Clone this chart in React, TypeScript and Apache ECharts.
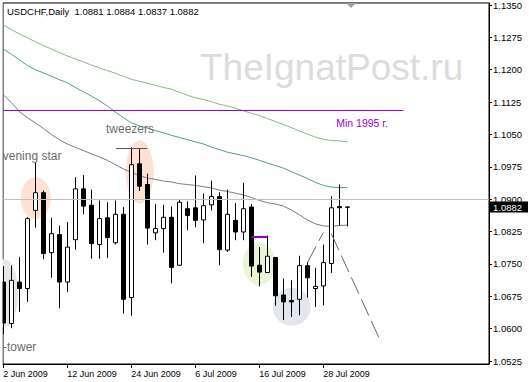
import React, { useEffect, useRef } from "react";
import * as echarts from "echarts";

const symbol = "USDCHF";
const period = "Daily";

const dates = [
  "2009-06-02", "2009-06-03", "2009-06-04", "2009-06-05", "2009-06-08", "2009-06-09", "2009-06-10", "2009-06-11",
  "2009-06-12", "2009-06-15", "2009-06-16", "2009-06-17", "2009-06-18", "2009-06-19", "2009-06-22", "2009-06-23",
  "2009-06-24", "2009-06-25", "2009-06-26", "2009-06-29", "2009-06-30", "2009-07-01", "2009-07-02", "2009-07-03",
  "2009-07-06", "2009-07-07", "2009-07-08", "2009-07-09", "2009-07-10", "2009-07-13", "2009-07-14", "2009-07-15",
  "2009-07-16", "2009-07-17", "2009-07-20", "2009-07-21", "2009-07-22", "2009-07-23", "2009-07-24", "2009-07-27",
  "2009-07-28", "2009-07-29", "2009-07-30", "2009-07-31",
];

const openP = [
  1.0708, 1.0612, 1.0708, 1.0693, 1.0874, 1.0915, 1.0776, 1.0818, 1.0708, 1.0806, 1.0924,
  1.0886, 1.0795, 1.0857, 1.0799, 1.0865, 1.0672, 1.0982, 1.0934, 1.0822, 1.0832, 1.0858,
  1.0747, 1.0878, 1.0880, 1.0852, 1.0887, 1.0906, 1.0782, 1.0851, 1.0824, 1.0882, 1.0747,
  1.0730, 1.0765, 1.0678, 1.0665, 1.0668, 1.0746, 1.0693, 1.0699, 1.0751, 1.0883, 1.0881,
];
const closeP = [
  1.0613, 1.0712, 1.0693, 1.0855, 1.0915, 1.0774, 1.0820, 1.0708, 1.0789, 1.0924, 1.0884,
  1.0797, 1.0855, 1.0811, 1.0865, 1.0668, 1.0980, 1.0930, 1.0833, 1.0832, 1.0858, 1.0742,
  1.0893, 1.0862, 1.0851, 1.0885, 1.0906, 1.0783, 1.0865, 1.0824, 1.0878, 1.0745, 1.0731,
  1.0768, 1.0676, 1.0662, 1.0662, 1.0746, 1.0718, 1.0698, 1.0753, 1.0880, 1.0880, 1.0882,
];
const lowP = [
  1.0587, 1.0601, 1.0639, 1.0662, 1.0834, 1.0761, 1.0718, 1.0647, 1.0685, 1.0783, 1.0865,
  1.0762, 1.0762, 1.0764, 1.0795, 1.0635, 1.0630, 1.0919, 1.0795, 1.0805, 1.0776, 1.0705,
  1.0745, 1.0828, 1.0835, 1.0798, 1.0874, 1.0747, 1.0778, 1.0805, 1.0805, 1.0720, 1.0698,
  1.0729, 1.0653, 1.0620, 1.0627, 1.0631, 1.0672, 1.0650, 1.0654, 1.0729, 1.0839, 1.0837,
];
const highP = [
  1.0745, 1.0747, 1.0766, 1.0858, 1.0986, 1.0920, 1.0857, 1.0839, 1.0847, 1.0951, 1.0956,
  1.0922, 1.0897, 1.0893, 1.0897, 1.0882, 1.1020, 1.1017, 1.0959, 1.0889, 1.0887, 1.0883,
  1.0899, 1.0895, 1.0955, 1.0913, 1.0943, 1.0916, 1.0922, 1.0891, 1.0938, 1.0889, 1.0789,
  1.0816, 1.0766, 1.0716, 1.0712, 1.0769, 1.0754, 1.0741, 1.0795, 1.0907, 1.0934, 1.0884,
];

const maGreen = [
  1.1304, 1.1293, 1.1283, 1.1274, 1.1265, 1.1256, 1.1248, 1.1240, 1.1232, 1.1225, 1.1218,
  1.1211, 1.1204, 1.1198, 1.1192, 1.1185, 1.1178, 1.1173, 1.1169, 1.1164, 1.1159, 1.1155,
  1.1148, 1.1141, 1.1135, 1.1131, 1.1126, 1.1120, 1.1116, 1.1111, 1.1105, 1.1099, 1.1094,
  1.1087, 1.1080, 1.1073, 1.1066, 1.1058, 1.1051, 1.1044, 1.1039, 1.1036, 1.1035, 1.1033,
];
const maTeal = [
  1.1248, 1.1236, 1.1223, 1.1210, 1.1200, 1.1193, 1.1185, 1.1177, 1.1170, 1.1159, 1.1149,
  1.1139, 1.1128, 1.1116, 1.1102, 1.1089, 1.1077, 1.1070, 1.1065, 1.1059, 1.1054, 1.1048,
  1.1043, 1.1038, 1.1033, 1.1028, 1.1021, 1.1015, 1.1009, 1.1005, 1.1001, 1.0996, 1.0990,
  1.0984, 1.0978, 1.0972, 1.0964, 1.0956, 1.0948, 1.0939, 1.0932, 1.0928, 1.0927, 1.0927,
];
const maSlate = [
  1.1142, 1.1124, 1.1103, 1.1089, 1.1077, 1.1064, 1.1050, 1.1038, 1.1028, 1.1020, 1.1013,
  1.1005, 1.0998, 1.0990, 1.0980, 1.0970, 1.0962, 1.0955, 1.0949, 1.0946, 1.0942, 1.0940,
  1.0936, 1.0934, 1.0932, 1.0929, 1.0926, 1.0921, 1.0918, 1.0914, 1.0910, 1.0904, 1.0897,
  1.0892, 1.0889, 1.0884, 1.0875, 1.0864, 1.0852, 1.0843, 1.0838, 1.0837, 1.0839, 1.0840,
];

const priceTicks = [
  1.0525, 1.06, 1.0675, 1.075, 1.0825, 1.09, 1.0975, 1.105, 1.1125, 1.12, 1.1275, 1.135,
];
const dateTicks = ["2009-06-02", "2009-06-12", "2009-06-24", "2009-07-06", "2009-07-16", "2009-07-28"];

const lastPrice = 1.0882;
const min1995 = 1.1105;

// annotation anchors in data space: [bar index, price]
const min1995Line = [[-0.04, min1995], [50, min1995]];
const tweezersTop = [[14.1, 1.1017], [18.0, 1.1017]];
const purpleShort = [[31, 1.0814], [33, 1.0814]];
const dashUp = [[38.05, 1.0754], [40.0, 1.0823]];
const dashDown = [[41, 1.082], [47, 1.0577]];

const zoneCenters = [
  [0.1, 1.0682],
  [4.05, 1.0902],
  [17.05, 1.0963],
  [31.96, 1.0751],
  [36.05, 1.0651],
];
const patternLabels = ["evening star", "tweezers", "-tower", "Min 1995 г."];
const patternAnchors = [
  [-0.91, 1.1001],
  [15.84, 1.1063],
  [-0.04, 1.0557],
  [44.84, 1.1077],
];

const MONTHS = ["Jan", "Feb", "Mar", "Apr", "May", "Jun", "Jul", "Aug", "Sep", "Oct", "Nov", "Dec"];
const fmtDate = (s: string) => {
  const [y, m, d] = s.split("-").map(Number);
  return `${d} ${MONTHS[m - 1]} ${y}`;
};
const FONT = '"Liberation Sans", Arial, sans-serif';

export default function App() {
  const ref = useRef<HTMLDivElement>(null);

  useEffect(() => {
    document.body.style.margin = "0";
    if (!ref.current) return;
    const chart = echarts.init(ref.current, undefined, { renderer: "svg" });
    const tickIdx = dateTicks.map((d) => dates.indexOf(d));
    const n = dates.length;

    const seg = (pts: number[][], lineStyle: any) => [
      { coord: pts[0], lineStyle, label: { show: false } },
      { coord: pts[1], lineStyle, label: { show: false } },
    ];

    const option: any = {
      animation: false,
      backgroundColor: "#fff",
      grid: {
        left: 3,
        right: 40,
        top: 2,
        bottom: 18,
        show: true,
        borderColor: "#000",
        borderWidth: 1,
        backgroundColor: "#fff",
      },
      xAxis: {
        type: "value",
        min: -0.04,
        max: 60.71,
        axisLine: { show: true, onZero: false, lineStyle: { color: "#000", width: 1 } },
        axisTick: { show: true, customValues: tickIdx, length: 4, lineStyle: { color: "#000" } },
        axisLabel: {
          customValues: tickIdx,
          formatter: (v: number) => fmtDate(dates[Math.round(v)]),
          align: "left",
          fontSize: 9,
          fontFamily: FONT,
          color: "#000",
          margin: 5,
        },
        splitLine: { show: false },
      },
      yAxis: {
        type: "value",
        position: "right",
        min: 1.05181,
        max: 1.13547,
        axisLine: { show: true, onZero: false, lineStyle: { color: "#000", width: 1 } },
        axisTick: { show: true, customValues: priceTicks, length: 3, lineStyle: { color: "#000" } },
        axisLabel: {
          customValues: priceTicks,
          formatter: (v: number) => v.toFixed(4),
          fontSize: 9.5,
          fontFamily: FONT,
          color: "#000",
          margin: 4,
        },
        splitLine: { show: false },
      },
      series: [
        {
          type: "line",
          name: "MA green",
          data: maGreen.map((v, i) => [i, v]),
          symbol: "none",
          lineStyle: { width: 1, color: "#86b883" },
          silent: true,
          z: 2,
        },
        {
          type: "line",
          name: "MA teal",
          data: maTeal.map((v, i) => [i, v]),
          symbol: "none",
          lineStyle: { width: 1, color: "#4f9a9c" },
          silent: true,
          z: 2,
        },
        {
          type: "line",
          name: "MA slate",
          data: maSlate.map((v, i) => [i, v]),
          symbol: "none",
          lineStyle: { width: 1, color: "#6a7f90" },
          silent: true,
          z: 2,
          markLine: {
            silent: true,
            symbol: ["none", "none"],
            animation: false,
            label: { show: false },
            data: [
              {
                yAxis: lastPrice,
                lineStyle: { color: "#c0c0c0", type: "solid", width: 1 },
                label: { show: false },
              },
              seg(min1995Line, { color: "#9400d3", type: "solid", width: 1 }),
              seg(tweezersTop, { color: "#555", type: "solid", width: 1 }),
              seg(purpleShort, { color: "#9400d3", type: "solid", width: 2 }),
              seg(dashUp, { color: "#666", type: [18, 6], width: 1 }),
              seg(dashDown, { color: "#666", type: [18, 6], width: 1 }),
            ],
          },
        },
        {
          type: "candlestick",
          name: symbol,
          data: dates.map((_, i) => [i, openP[i], closeP[i], lowP[i], highP[i]]),
          encode: { x: 0, y: [1, 2, 3, 4] },
          barWidth: 4,
          silent: true,
          z: 3,
          itemStyle: {
            color: "#fff",
            color0: "#000",
            borderColor: "#000",
            borderColor0: "#000",
            borderColorDoji: "#000",
            borderWidth: 1,
          },
        },
      ],
    };
    chart.setOption(option);

    const px = (p: number[]) => chart.convertToPixel({ gridIndex: 0 }, p) as number[];
    const zoneStyle = [
      { rx: 14, ry: 34, fill: "#e6e6e6" },
      { rx: 15, ry: 21, fill: "#fde2d4" },
      { rx: 14, ry: 31.5, fill: "#fde2d4" },
      { rx: 16, ry: 21.5, fill: "#eaf3d5" },
      { rx: 19, ry: 19, fill: "#e3e6ee" },
    ];
    const labelStyle = [
      { align: "left", fill: "#6b6b6b", size: 12 },
      { align: "center", fill: "#6b6b6b", size: 12 },
      { align: "left", fill: "#6b6b6b", size: 12 },
      { align: "center", fill: "#9400d3", size: 10.5 },
    ];
    const last = n - 1;
    const header = `${symbol},${period}  ${openP[last].toFixed(4)} ${highP[last].toFixed(4)} ${lowP[last].toFixed(4)} ${closeP[last].toFixed(4)}`;

    const graphic: any[] = [];
    zoneCenters.forEach((c, i) => {
      const [x, y] = px(c);
      graphic.push({
        type: "ellipse",
        z: 1,
        silent: true,
        shape: { cx: x, cy: y, rx: zoneStyle[i].rx, ry: zoneStyle[i].ry },
        style: { fill: zoneStyle[i].fill },
      });
    });
    graphic.push({
      type: "text",
      z: 1,
      silent: true,
      x: 200,
      y: 67,
      style: {
        text: "TheIgnatPost.ru",
        fontSize: 37,
        fontFamily: FONT,
        fill: "#dcdcdc",
        align: "left",
        verticalAlign: "middle",
        textAlign: "left",
        textVerticalAlign: "middle",
      },
    });
    patternLabels.forEach((t, i) => {
      const [x, y] = px(patternAnchors[i]);
      graphic.push({
        type: "text",
        z: 4,
        silent: true,
        x,
        y,
        style: {
          text: t,
          fontSize: labelStyle[i].size,
          fontFamily: FONT,
          fill: labelStyle[i].fill,
          align: labelStyle[i].align,
          verticalAlign: "middle",
          textAlign: labelStyle[i].align,
          textVerticalAlign: "middle",
        },
      });
    });
    graphic.push({
      type: "rect",
      z: 50,
      silent: true,
      shape: { x: 0, y: 0, width: 2.5, height: 364 },
      style: { fill: "#fff" },
    });
    // current price box on the right scale
    const [gx1, gy] = px([60.71, lastPrice]);
    graphic.push({
      type: "rect",
      z: 60,
      silent: true,
      shape: { x: gx1 + 1, y: Math.round(gy) - 5.5, width: 38, height: 11 },
      style: { fill: "#000" },
    });
    graphic.push({
      type: "text",
      z: 61,
      silent: true,
      x: gx1 + 4,
      y: Math.round(gy),
      style: {
        text: lastPrice.toFixed(4),
        fontSize: 9.5,
        fontFamily: FONT,
        fill: "#fff",
        align: "left",
        verticalAlign: "middle",
        textAlign: "left",
        textVerticalAlign: "middle",
      },
    });
    graphic.push({
      type: "text",
      z: 4,
      silent: true,
      x: 7,
      y: 11,
      style: {
        text: header,
        fontSize: 9.5,
        fontFamily: FONT,
        fill: "#000",
        align: "left",
        verticalAlign: "middle",
        textAlign: "left",
        textVerticalAlign: "middle",
      },
    });
    graphic.push({
      type: "polygon",
      z: 4,
      silent: true,
      shape: { points: [[346, 3], [356, 3], [351, 8]] },
      style: { fill: "#a0a0a0" },
    });
    chart.setOption({ graphic });

    return () => chart.dispose();
  }, []);

  return <div ref={ref} style={{ width: 529, height: 382 }} />;
}
